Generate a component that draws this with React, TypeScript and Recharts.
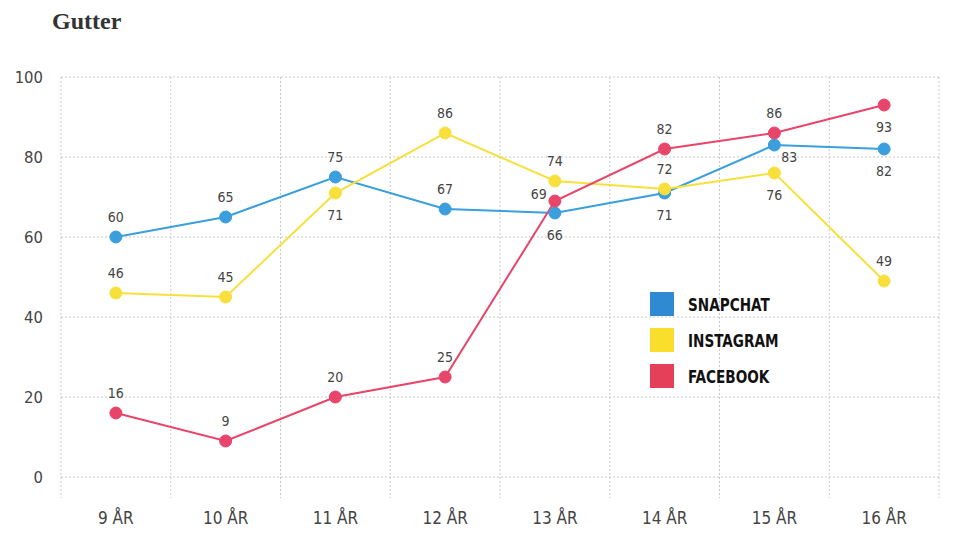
import { LineChart, Line, XAxis, YAxis, CartesianGrid, LabelList } from "recharts";

const ages = ["9 ÅR", "10 ÅR", "11 ÅR", "12 ÅR", "13 ÅR", "14 ÅR", "15 ÅR", "16 ÅR"];
const snapchat = [60, 65, 75, 67, 66, 71, 83, 82];
const instagram = [46, 45, 71, 86, 74, 72, 76, 49];
const facebook = [16, 9, 20, 25, 69, 82, 86, 93];
const yTicks = [0, 20, 40, 60, 80, 100];

// where each value label sits relative to its dot
const snapPlace = ["up", "up", "up", "up", "down", "down", "downRight", "down"];
const instaPlace = ["up", "up", "down", "up", "up", "up", "down", "up"];
const fbPlace = ["up", "up", "up", "up", "left", "up", "up", "down"];

const chartData = ages.map((age, i) => ({
  age,
  snapchat: snapchat[i],
  instagram: instagram[i],
  facebook: facebook[i],
}));

const series = [
  { key: "snapchat", name: "SNAPCHAT", color: "#3a9fdc", swatch: "#2f8ad3", place: snapPlace },
  { key: "instagram", name: "INSTAGRAM", color: "#f7e03c", swatch: "#f9df2c", place: instaPlace },
  { key: "facebook", name: "FACEBOOK", color: "#e8456a", swatch: "#e54059", place: fbPlace },
];

const FONT = '"DejaVu Sans Condensed", "DejaVu Sans", sans-serif';
const cond = { fontFamily: FONT, fontStretch: "condensed" as const };
const BOTTOM_PAD = 21;

const makeLabel = (place: string[]) => (props: any) => {
  const { x, y, value, index } = props;
  const p = place[index];
  let dx = 0;
  let dy = -20;
  if (p === "down") dy = 22;
  if (p === "downRight") {
    dx = 15;
    dy = 12;
  }
  if (p === "left") {
    dx = -16;
    dy = -7;
  }
  return (
    <text
      x={x + dx}
      y={y + dy}
      textAnchor="middle"
      dominantBaseline="central"
      style={cond}
      fontSize={14}
      fill="#444"
    >
      {value}
    </text>
  );
};

export default function App() {
  return (
    <div style={{ position: "absolute", left: 0, top: 0, width: 960, height: 560, background: "#fff" }}>
      <div
        style={{
          position: "absolute",
          left: 52,
          top: 8,
          fontFamily: '"Liberation Serif", "DejaVu Serif", serif',
          fontWeight: 700,
          fontSize: 24,
          color: "#333",
        }}
      >
        Gutter
      </div>
      <LineChart width={960} height={560} data={chartData} margin={{ top: 77, right: 21, bottom: 22, left: 0 }}>
        <CartesianGrid
          stroke="#c8c8c8"
          strokeDasharray="2 2"
          verticalCoordinatesGenerator={({ offset }: any) =>
            Array.from({ length: ages.length + 1 }, (_, i) => offset.left + (i * offset.width) / ages.length)
          }
          horizontalCoordinatesGenerator={({ offset }: any) =>
            yTicks.map((t) => offset.top + (offset.height - BOTTOM_PAD) * (1 - t / 100))
          }
        />
        <XAxis
          dataKey="age"
          scale="band"
          axisLine={false}
          tickLine={false}
          tickSize={0}
          tickMargin={14}
          height={40}
          tick={{ ...cond, fontSize: 17, fill: "#444" }}
        />
        <YAxis
          domain={[0, 100]}
          ticks={yTicks}
          width={61}
          axisLine={false}
          tickLine={false}
          tickSize={0}
          tickMargin={18}
          padding={{ bottom: BOTTOM_PAD }}
          tick={{ ...cond, fontSize: 16.5, fill: "#444" }}
        />
        {series.map((s) => (
          <Line
            key={s.key}
            dataKey={s.key}
            name={s.name}
            stroke={s.color}
            strokeWidth={2}
            dot={{ r: 6, fill: s.color, stroke: s.color, strokeWidth: 1 }}
            activeDot={false}
            isAnimationActive={false}
          >
            <LabelList dataKey={s.key} content={makeLabel(s.place)} />
          </Line>
        ))}
      </LineChart>
      <div style={{ position: "absolute", left: 650, top: 286, ...cond }}>
        {series.map((s) => (
          <div key={s.key} style={{ display: "flex", alignItems: "center", height: 36 }}>
            <div style={{ width: 24, height: 24, background: s.swatch, marginRight: 14 }} />
            <span
              style={{
                fontWeight: 700,
                fontSize: 18,
                color: "#111",
                display: "inline-block",
                transform: "scaleX(0.84)",
                transformOrigin: "left center",
              }}
            >
              {s.name}
            </span>
          </div>
        ))}
      </div>
    </div>
  );
}
